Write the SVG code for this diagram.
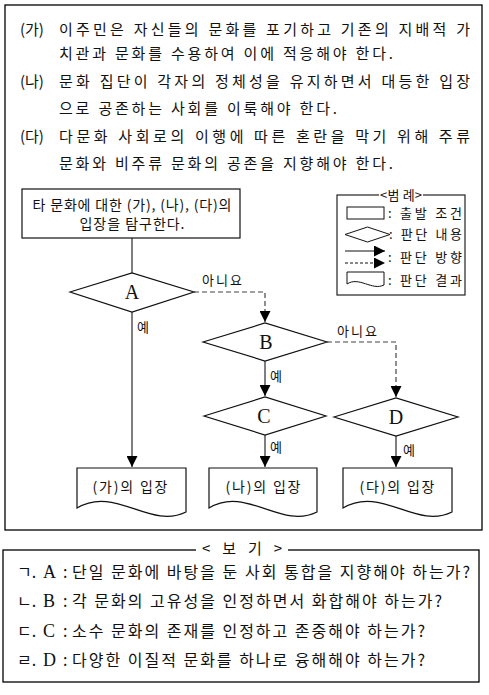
<svg xmlns="http://www.w3.org/2000/svg" width="489" height="695" viewBox="0 0 489 695">
<style>
.k{font-family:"Noto Sans CJK KR","Liberation Sans",sans-serif;fill:#111}
.s{font-family:"Liberation Serif","Noto Sans CJK KR",serif;fill:#111}
.t15{font-size:15px}
.t14{font-size:14px}
.t13{font-size:13px}
.t16{font-size:16px}
.box{fill:#fff;stroke:#000;stroke-width:1.3}
.shape{fill:#fff;stroke:#111;stroke-width:1.2}
.ln{fill:none;stroke:#555;stroke-width:1.5}
.dash{fill:none;stroke:#444;stroke-width:1.2;stroke-dasharray:5,3}
.lbl{text-anchor:middle}
</style>
<defs>
<marker id="ah" markerUnits="userSpaceOnUse" markerWidth="11" markerHeight="11" viewBox="0 0 10 10" refX="10" refY="5" orient="auto">
<path d="M0,0 L10,5 L0,10 Z" fill="#000"/>
</marker>
</defs>
<rect width="489" height="695" fill="#fff"/>

<g id="passage">
<rect x="5" y="5" width="477" height="525" class="box"/>
<text class="k t15" x="20" y="35">(가)</text>
<text class="k t15" x="59" y="35" textLength="411" lengthAdjust="spacing">이주민은 자신들의 문화를 포기하고 기존의 지배적 가</text>
<text class="k t15" x="59" y="59" textLength="334" lengthAdjust="spacing">치관과 문화를 수용하여 이에 적응해야 한다.</text>
<text class="k t15" x="20" y="87">(나)</text>
<text class="k t15" x="59" y="87" textLength="411" lengthAdjust="spacing">문화 집단이 각자의 정체성을 유지하면서 대등한 입장</text>
<text class="k t15" x="59" y="114" textLength="278" lengthAdjust="spacing">으로 공존하는 사회를 이룩해야 한다.</text>
<text class="k t15" x="20" y="142">(다)</text>
<text class="k t15" x="59" y="142" textLength="411" lengthAdjust="spacing">다문화 사회로의 이행에 따른 혼란을 막기 위해 주류</text>
<text class="k t15" x="59" y="169" textLength="334" lengthAdjust="spacing">문화와 비주류 문화의 공존을 지향해야 한다.</text>
</g>

<g id="connectors">
<path class="ln" d="M132,238 V273"/>
<path class="ln" d="M132,312 V467" marker-end="url(#ah)"/>
<path class="dash" d="M194,292 H265 V322" marker-end="url(#ah)"/>
<path class="dash" d="M327,342 H396 V397" marker-end="url(#ah)"/>
<path class="ln" d="M265,361 V396" marker-end="url(#ah)"/>
<path class="ln" d="M265,435 V467" marker-end="url(#ah)"/>
<path class="ln" d="M396,436 V467" marker-end="url(#ah)"/>
<text class="k t13" x="202" y="285" textLength="40" lengthAdjust="spacing">아니요</text>
<text class="k t13" x="337" y="336" textLength="40" lengthAdjust="spacing">아니요</text>
<text class="k t13" x="137" y="332">예</text>
<text class="k t13" x="270" y="381">예</text>
<text class="k t13" x="270" y="452">예</text>
<text class="k t13" x="403" y="455">예</text>
</g>

<g id="start">
<rect x="22" y="189" width="218" height="49" class="shape"/>
<text class="k t14 lbl" x="132" y="210" textLength="199" lengthAdjust="spacing">타 문화에 대한 (가), (나), (다)의</text>
<text class="k t14 lbl" x="132" y="229" textLength="105" lengthAdjust="spacing">입장을 탐구한다.</text>
</g>

<g id="nodeA">
<path class="shape" d="M70,292 L132,273 L194,292 L132,312 Z"/>
<text class="s lbl" x="132" y="299" font-size="20">A</text>
</g>
<g id="nodeB">
<path class="shape" d="M203,342 L265,323 L327,342 L265,361 Z"/>
<text class="s lbl" x="266" y="349" font-size="20">B</text>
</g>
<g id="nodeC">
<path class="shape" d="M204,416 L265,397 L326,416 L265,435 Z"/>
<text class="s lbl" x="264" y="423" font-size="20">C</text>
</g>
<g id="nodeD">
<path class="shape" d="M334,417 L396,398 L458,417 L396,436 Z"/>
<text class="s lbl" x="396" y="424" font-size="20">D</text>
</g>

<g id="result1">
<path class="shape" d="M77,468 H186 V512 C150,530 115,485 77,508 Z"/>
<text class="k t14 lbl" x="130" y="492" textLength="75" lengthAdjust="spacing">(가)의 입장</text>
</g>
<g id="result2">
<path class="shape" d="M209,468 H317 V512 C281,530 246,485 209,508 Z"/>
<text class="k t14 lbl" x="263" y="492" textLength="75" lengthAdjust="spacing">(나)의 입장</text>
</g>
<g id="result3">
<path class="shape" d="M343,468 H452 V512 C416,530 381,485 343,508 Z"/>
<text class="k t14 lbl" x="397" y="492" textLength="75" lengthAdjust="spacing">(다)의 입장</text>
</g>

<g id="legend">
<rect x="337" y="195" width="128" height="100" fill="#fff" stroke="#222" stroke-width="1.2"/>
<rect x="379" y="189" width="44" height="12" fill="#fff"/>
<text class="k t13 lbl" x="401" y="200" textLength="42" lengthAdjust="spacing">&lt;범 례&gt;</text>
<rect x="347" y="207" width="37" height="12" fill="#fff" stroke="#111" stroke-width="1"/>
<text class="k t13" x="388" y="218" textLength="74" lengthAdjust="spacing">: 출발 조건</text>
<path d="M345,234.5 L367.5,227 L390,234.5 L367.5,242 Z" fill="#fff" stroke="#111" stroke-width="1"/>
<text class="k t13" x="389" y="239" textLength="73" lengthAdjust="spacing">: 판단 내용</text>
<path d="M345,251 H385" stroke="#111" stroke-width="1" marker-end="url(#ah)"/>
<path d="M345,263 H385" stroke="#111" stroke-width="1" stroke-dasharray="3,2" marker-end="url(#ah)"/>
<text class="k t13" x="388" y="262" textLength="74" lengthAdjust="spacing">: 판단 방향</text>
<path d="M347,272 H384 V285 C372,291 359,276 347,284 Z" fill="#fff" stroke="#111" stroke-width="1"/>
<text class="k t13" x="388" y="285" textLength="74" lengthAdjust="spacing">: 판단 결과</text>
</g>

<g id="choices">
<rect x="3" y="550" width="476" height="132" class="box"/>
<rect x="196" y="542" width="92" height="14" fill="#fff"/>
<text class="k t15 lbl" x="242" y="554" textLength="80" lengthAdjust="spacing">&lt; 보 기 &gt;</text>
<text class="k t16" x="17" y="578">ㄱ.</text>
<text class="s" font-size="18" x="43" y="578">A</text>
<text class="k t16" x="63" y="578">:</text>
<text class="k t16" x="72" y="578" textLength="398" lengthAdjust="spacing">단일 문화에 바탕을 둔 사회 통합을 지향해야 하는가?</text>
<text class="k t16" x="17" y="607">ㄴ.</text>
<text class="s" font-size="18" x="43" y="607">B</text>
<text class="k t16" x="63" y="607">:</text>
<text class="k t16" x="72" y="607" textLength="370" lengthAdjust="spacing">각 문화의 고유성을 인정하면서 화합해야 하는가?</text>
<text class="k t16" x="17" y="637">ㄷ.</text>
<text class="s" font-size="18" x="43" y="637">C</text>
<text class="k t16" x="63" y="637">:</text>
<text class="k t16" x="72" y="637" textLength="353" lengthAdjust="spacing">소수 문화의 존재를 인정하고 존중해야 하는가?</text>
<text class="k t16" x="17" y="666">ㄹ.</text>
<text class="s" font-size="18" x="43" y="666">D</text>
<text class="k t16" x="63" y="666">:</text>
<text class="k t16" x="72" y="666" textLength="353" lengthAdjust="spacing">다양한 이질적 문화를 하나로 융해해야 하는가?</text>
</g>
</svg>
